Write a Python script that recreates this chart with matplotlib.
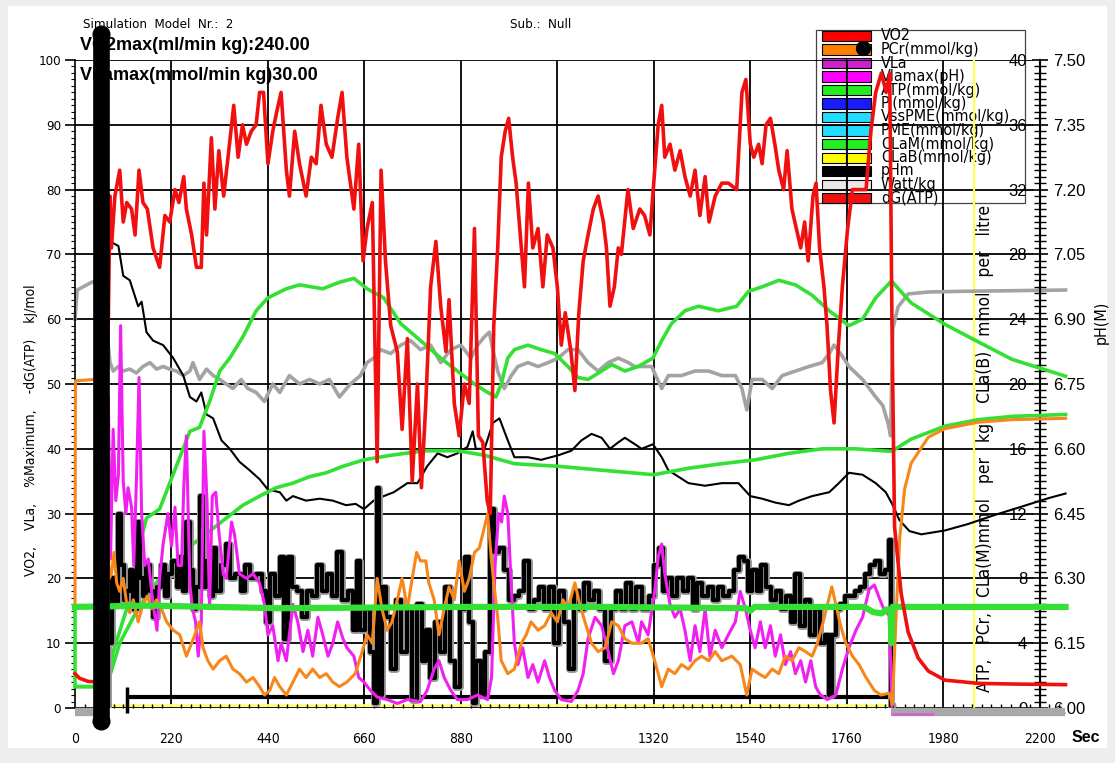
import numpy as np
import matplotlib
matplotlib.use('Agg')
import matplotlib.pyplot as plt
import matplotlib.patheffects as pe
from matplotlib.patches import Rectangle
from matplotlib.ticker import MultipleLocator
from matplotlib import font_manager as fm

REG = ['Liberation Sans', 'DejaVu Sans']
plt.rcParams['font.family'] = REG

# pick a condensed font if one is installed
def _find_narrow():
    prefs = ['liberation sans narrow', 'arial narrow', 'dejavu sans', 'noto sans', 'roboto condensed',
             'open sans', 'liberation sans']
    cands = []
    for f in fm.fontManager.ttflist:
        nm = f.name.lower()
        narrow = ('narrow' in nm or 'condensed' in nm or 'narrow' in f.fname.lower()
                  or 'condensed' in f.fname.lower() or str(f.stretch) in ('condensed', 'semi-condensed', '600', '500'))
        if not narrow or f.style != 'normal':
            continue
        if 'extra' in f.fname.lower() or 'ultra' in f.fname.lower() or 'semi' in f.fname.lower():
            continue
        w = f.weight if isinstance(f.weight, int) else {'normal': 400, 'regular': 400}.get(f.weight, 700)
        if w != 400:
            continue
        rank = next((i for i, p in enumerate(prefs) if p in nm), len(prefs))
        cands.append((rank, f.fname))
    cands.sort()
    return cands[0][1] if cands else None

NARROW_FILE = _find_narrow()

def nfp(size):
    if NARROW_FILE:
        return fm.FontProperties(fname=NARROW_FILE, size=size)
    return fm.FontProperties(family='Liberation Sans', size=size * 0.85)

# ---------------- data (time s, value on left-axis scale) ----------------
x_ticks = [0, 220, 440, 660, 880, 1100, 1320, 1540, 1760, 1980, 2200]
y_ticks = [0, 10, 20, 30, 40, 50, 60, 70, 80, 90, 100]
mmol_ticks = [0, 4, 8, 12, 16, 20, 24, 28, 32, 36, 40]
ph_ticks = [6.00, 6.15, 6.30, 6.45, 6.60, 6.75, 6.90, 7.05, 7.20, 7.35, 7.50]

vo2 = [(0,5.3),(10,4.6),(30,4.1),(64,4.0),
 (80,79),(83,71),(91,79),(102,83),(110,75),(118,78),(129,77),(137,73),(146,83),(155,78),(165,77),(178,71),(193,68),(205,76),(216,75),(228,80),(237,78),(248,82),(254,77),(266,73),(277,68),(288,68),(294,81),(300,73),(311,88),(319,77),(328,86),(339,79),(349,85),(362,93),(372,85),(382,90),(391,87),(402,89),(413,90),(421,95),(430,95),(440,84),(451,89),(460,92),(470,95),(482,83),(489,79),(501,89),(512,84),(527,79),(539,85),(550,84),(561,93),(573,87),(586,85),(599,91),(609,95),
 (620,85),(636,77),(647,87),(657,69),(666,74),(678,78),(689,38),(698,83),(708,69),(720,59),(735,55),(746,43),(758,57),(769,35),(781,50),(790,34),(800,47),(811,65),(823,72),(834,62),(846,55),(853,63),(865,47),(876,42),(888,50),(899,47),(911,74),(920,42),(930,41),(940,32),(947,30),(955,59),(964,71),(972,85),(981,89),(989,91),(998,85),(1006,81),(1018,71),(1025,65),(1034,81),(1044,71),(1056,74),(1067,65),(1077,73),(1090,71),(1100,65),(1109,56),(1118,61),(1131,55),(1140,49),(1149,61),(1159,69),(1170,73),(1182,77),(1193,79),(1205,75),(1212,71),(1220,62),(1230,65),(1239,71),
 (1246,70),(1261,80),(1273,74),(1288,77),(1299,76),(1311,73),(1322,83),(1330,90),(1338,93),(1345,85),(1357,87),(1368,83),(1380,86),(1391,82),(1403,79),(1414,83),(1425,76),(1437,82),(1446,75),(1460,79),(1475,81),(1490,81),(1509,80),(1521,95),(1530,97),(1540,87),(1548,85),(1559,87),(1567,84),(1576,90),(1586,91),(1596,87),(1605,83),(1616,80),(1624,86),(1635,77),(1645,74),(1655,71),(1664,75),(1672,69),(1683,79),(1690,81),(1698,71),(1708,65),(1715,59),(1723,49),(1731,44),(1741,56),(1750,65),(1762,74),(1773,80),(1788,80),(1804,80),(1815,89),(1826,95),(1839,98),(1850,95),(1858,98),(1863,60),(1869,28),(1884,17.7),(1900,11.7),(1923,7.7),(1946,5.7),(1984,4.3),(2060,3.8),(2137,3.7),(2259,3.6)]

dg_atp = [(0,60),(5,64.5),(38,65.7),(60,66),
 (80,53.3),(87,52),(99,52.7),(110,52),(125,52.3),(140,51.7),(155,52.7),(171,53.3),(186,52.3),(201,52.7),(216,52.3),(231,52),(247,51.3),(262,52),(269,53.3),(284,50.7),(300,52.3),(315,51.3),(330,50.7),(345,50),(360,49.3),(379,50.7),(394,49.3),(413,48.7),(432,47.3),(451,50),(467,48.7),(489,51.3),(512,50),(535,50.7),(558,50),(580,50.7),(603,48),
 (628,50),(651,51.3),(666,53.3),(681,54),(697,55.3),(720,54.7),(743,56),(765,56.7),(788,55.3),(811,56),(834,53.3),(857,55.3),(880,56),(903,54),(918,56),(934,57.3),(945,58),(953,55.3),(964,52),(979,49.3),(995,51.3),(1010,52.7),(1033,53.3),(1056,52.7),(1079,53.3),(1102,54),(1124,55.3),(1147,55.3),(1170,53.3),(1193,52),(1216,53.3),(1239,54),(1262,53.3),
 (1276,52.7),(1315,52.7),(1338,49.3),(1353,51.3),(1383,51.3),(1414,52),(1445,52),(1475,51.3),(1506,51.3),(1521,49.3),(1532,46),(1544,50.7),(1567,50.7),(1590,49.3),(1613,51.3),(1643,52),(1674,52.7),(1704,53.3),(1720,54.7),(1731,56),(1746,54.7),(1765,52.7),(1796,50.7),(1826,48),(1842,46.7),(1854,44),(1860,42),(1865,58.5),(1877,61.9),(1900,63.9),(1946,64.2),(2022,64.3),(2137,64.4),(2259,64.5)]

phm = [(75,72.5),(80,72),(99,71.3),(110,66.7),(125,66),(144,62),(152,62.7),(163,58),(178,56.7),(201,56),(224,54),(247,51.3),(262,48),(277,47.3),(288,48.7),(300,45.3),(315,44.7),(334,41.3),(353,40),(375,38),(398,36.7),(421,35.3),(440,33.7),(467,33.3),(482,32),(497,32.7),(527,32),(558,32.3),(588,32),(618,31.3),(640,31.5),(659,30.7),(681,32),(704,32.7),(727,33.3),(758,34.7),(781,34.7),(803,37.3),(827,39.3),(849,38.7),(872,39.3),(895,40.3),(907,42.7),(914,40),(934,40),(953,44),(968,44.7),(983,42),(1002,38.7),(1033,38.7),(1063,38.3),(1102,39),(1132,39.7),(1155,41.3),(1178,42.3),(1201,41.7),(1220,40),(1239,41),(1254,41.7),(1277,40.7),(1292,40),(1318,40.7),(1338,38.7),(1353,36.7),(1376,35.7),(1399,34.7),(1437,34.3),(1475,34.7),(1513,34.7),(1540,32.7),(1567,32.3),(1597,31.7),(1628,31.3),(1651,32),(1681,32.7),(1720,33.3),(1742,34.7),(1765,36.3),(1796,36),(1826,34.7),(1849,33.3),(1865,31.3),(1880,29),(1903,27.3),(1930,26.8),(1984,27.4),(2037,28.4),(2098,29.8),(2160,31.1),(2221,32.4),(2259,33.1)]

cla_m = [(0,15.6),(0,3.3),(72,3.3),(87,8.7),(118,15.3),(140,23.3),(163,29.3),(193,30.7),(216,34.7),(239,38.7),(262,42.7),(284,43.3),(307,47.3),(330,52),(353,54),(383,57.3),(413,61.3),(440,63.3),(482,64.7),(512,65.3),(565,64.7),(603,65.7),(636,66.3),(666,64.7),(704,63.3),(743,59.3),(788,56.7),(834,54),(872,52),(911,50),(941,48.7),(960,48),(972,50),(987,54),(1002,55.3),(1033,56),(1063,55.3),(1094,54.7),(1124,52.7),(1147,51),(1170,50.7),(1201,52),(1224,53),(1254,52),(1284,52.7),(1318,54),(1338,56.7),(1360,59.3),(1391,61.3),(1422,62),(1467,61.3),(1509,62),(1536,64.3),(1567,65),(1605,66),(1643,65.3),(1681,63.7),(1720,61.3),(1765,59),(1796,60),(1826,63.3),(1862,65.9),(1907,62.5),(1984,59.2),(2060,56.5),(2137,53.8),(2259,51.2)]

cla_b = [(0,3.3),(72,3.3),(102,10),(133,14),(163,17.3),(193,20),(231,22.7),(269,25.3),(307,27.3),(345,29.3),(383,31.3),(421,32.7),(459,34),(497,34.7),(535,35.7),(573,36.3),(611,37.3),(659,38.3),(720,39),(796,39.7),(872,39.7),(934,39),(1002,37.7),(1102,37.3),(1201,36.7),(1320,36),(1399,37),(1475,37.7),(1551,38.3),(1628,39.3),(1704,40),(1780,40),(1862,39.6),(1907,41.5),(1984,43.5),(2060,44.5),(2137,45),(2259,45.3)]

atp = [(0,15.6),(170,15.8),(460,15.4),(900,15.6),(1200,15.6),(1530,15.4),(1540,15.0),(1550,15.6),(1800,15.6),(1820,14.8),(1840,14.6),(1850,15.2),(1860,15.0),(1862,10),(1864,15.6),(2259,15.6)]

pcr = [(0,16),(1,50.5),(66,50.8),(72,35),(78,20),(83,20.7),(89,24),(95,19.3),(102,18),(110,20),(118,16),(125,14.7),(133,16.7),(144,13.3),(155,16),(165,17.3),(174,15.3),(186,16.7),(197,15.3),(209,13.3),(224,12),(239,11.3),(254,8),(266,10),(277,12),(284,13.3),(292,9.3),(303,7.3),(315,6),(330,7.3),(345,8),(360,6),(375,5.3),(391,4),(406,4.7),(421,3.3),(432,2),(444,2.7),(455,4.7),(467,3.3),(482,2),(497,4),(512,6),(527,4.7),(542,6),(558,4.7),(573,5.3),(588,4),(603,3.3),(620,4),(639,5.3),(655,8.7),(666,11.3),(678,10),(689,20),(700,15.3),(712,12),(723,13.3),(735,16.7),(746,20),(758,15.3),(769,20),(779,24),(788,22.7),(800,22.7),(807,19.3),(819,16.7),(830,11.3),(842,15.3),(853,18.7),(865,16.7),(876,22.7),(888,18),(899,20),(911,24),(922,24.7),(934,28),(941,30),(949,23.3),(956,18.7),(964,14),(972,7.3),(987,5.3),(1002,6),(1018,10),(1029,11.3),(1040,13.3),(1056,12),(1071,12.7),(1086,14.7),(1100,13.3),(1113,16.7),(1124,15.3),(1140,19.3),(1151,16),(1163,13.3),(1178,10),(1193,8.7),(1209,9.3),(1224,13.3),(1239,12.7),(1254,10.7),(1270,10),(1292,10),(1307,10.7),(1322,7.3),(1338,3.3),(1353,6),(1368,5.3),(1383,6.7),(1399,6),(1414,7.3),(1429,8),(1445,7.3),(1460,8.7),(1475,7.3),(1498,8),(1517,6.7),(1532,2),(1544,6),(1559,5.3),(1574,4.7),(1590,6),(1605,5.3),(1620,8),(1635,7.3),(1651,9.3),(1666,8.7),(1681,8),(1693,10),(1704,12.7),(1716,16),(1726,18.7),(1735,16),(1746,12.7),(1758,10),(1773,8),(1788,6.7),(1804,4.7),(1823,2.7),(1838,2),(1857,2.3),(1864,0.5),(1873,15),(1881,26.4),(1892,33.8),(1907,37.8),(1946,41.8),(1984,43.1),(2060,44.1),(2137,44.5),(2259,44.7)]

vla = [(72,0),(76,48),(81,23),(87,43),(93,32),(99,36),(104,59),(110,35),(116,30),(121,34),(129,31),(134,22),(140,35),(146,51),(152,30),(159,22),(167,23),(178,16),(187,12),(193,20),(201,25.3),(212,30),(220,25),(228,31),(235,22),(243,22),(248,34),(254,42),(262,19),(268,15.3),(275,13.3),(281,8),(288,13.3),(294,42.7),(301,32),(307,15.3),(313,32.7),(321,33.3),(328,27.3),(338,20.7),(345,20),(357,28.7),(364,26.7),(375,20.7),(391,20),(406,20.7),(421,19.3),(432,16),(440,11.3),(451,12.7),(463,7.3),(470,10),(482,7.3),(497,16),(508,13.3),(520,8.7),(531,12),(542,8),(554,14),(565,11.3),(577,8),(588,10),(599,13.3),(611,10.7),(620,9.3),(636,8),(647,4.7),(659,4),(674,2.7),(689,1.7),(712,1.3),(735,0.7),(758,1.3),(788,1),(803,2.7),(819,6),(830,7.3),(842,4.7),(857,2.7),(872,1.3),(895,1.3),(918,2),(941,1.3),(950,4.7),(958,22),(966,30),(973,28.7),(979,32.7),(987,30),(995,18.7),(1002,10),(1010,6.7),(1021,9.3),(1033,4.7),(1044,6.7),(1056,4),(1071,7.3),(1082,4.7),(1094,2.7),(1109,1.3),(1132,1),(1147,2.7),(1159,5.3),(1170,10.7),(1186,14),(1201,12.7),(1216,8.7),(1228,5.3),(1239,7.3),(1254,12.7),(1270,13.3),(1285,10),(1292,13.3),(1307,11.3),(1322,18),(1330,23.3),(1338,25.3),(1345,20.7),(1357,16),(1368,14),(1380,15.3),(1391,12),(1403,7.3),(1414,12.7),(1425,8.7),(1437,15.3),(1448,8),(1460,12),(1475,9.3),(1490,11.3),(1506,13.3),(1517,18),(1529,15.3),(1540,12),(1551,9.3),(1563,13.3),(1574,9.3),(1586,12.7),(1597,8),(1609,11.3),(1620,6.7),(1632,8.7),(1643,5.3),(1655,7.3),(1666,4),(1678,7.3),(1689,3.3),(1700,2),(1716,1.3),(1735,2),(1750,6),(1765,9.3),(1781,12),(1796,14),(1811,18.3),(1823,19),(1834,17),(1846,15),(1857,14.3),(1863,0)]

watt = [(72,0),(80,10),(87,20),(95,16),(102,30),(108,22),(114,16.7),(121,18),(129,21.3),(137,15.3),(144,28.7),(152,20),(159,17.3),(167,22),(174,18),(182,14),(192,18.7),(201,22),(209,17.3),(216,20.7),(228,22.7),(235,18.7),(243,23.3),(250,18),(258,28.7),(266,21.3),(273,15.3),(281,18.7),(288,32.7),(296,18.7),(303,22.7),(311,17.3),(319,24.7),(326,18),(338,22),(349,25.3),(360,20),(372,20.7),(383,18),(394,22),(406,20),(421,20.7),(432,18),(440,13.3),(451,20.7),(463,17.3),(470,23.3),(482,10.7),(489,23.3),(501,18.7),(512,18),(523,14),(535,18),(546,17.3),(558,22),(569,18),(580,20.7),(592,17.3),(603,24),(616,16.7),(628,18),(639,12),(647,22.7),(655,12),(666,15.3),(678,8.7),(685,0.7),(691,34),(695,2),(704,18.7),(716,14),(727,6),(739,16.7),(750,8.7),(762,15.3),(773,1.3),(785,16),(796,7.3),(805,12),(815,4.7),(826,13.3),(838,8.7),(849,18.7),(861,7.3),(872,3.3),(884,15.3),(895,23.3),(903,13.3),(911,0.7),(920,7.3),(930,2),(941,8.7),(953,30.7),(960,24),(972,24.7),(983,21.3),(995,16.7),(1006,17.3),(1018,18),(1029,22.7),(1040,15.3),(1052,16.7),(1063,18.7),(1075,15.3),(1086,18.7),(1098,10),(1109,18),(1121,13.3),(1132,6),(1144,18),(1155,15.3),(1166,19.3),(1178,16.7),(1189,18),(1201,15.3),(1216,7.3),(1228,15.3),(1239,18),(1251,15.3),(1262,19.3),(1274,15.3),(1285,18.7),(1303,15.3),(1315,17.3),(1326,22),(1336,24.7),(1345,18),(1357,20),(1368,17.3),(1380,20),(1391,18),(1403,20),(1414,15.3),(1425,19.3),(1437,17.3),(1448,18.7),(1460,16.7),(1471,18.7),(1483,17.3),(1498,18),(1509,21.3),(1521,23.3),(1530,22.7),(1540,18),(1550,21.3),(1559,18),(1570,22),(1582,18.7),(1594,16.7),(1605,18),(1616,15.3),(1628,17.3),(1639,13.3),(1647,20.7),(1658,12.7),(1670,16.7),(1681,11.3),(1693,15.3),(1704,10),(1716,11.3),(1723,2),(1731,11.3),(1741,15.3),(1750,16),(1762,17.3),(1773,17.3),(1784,18),(1796,18.7),(1807,20.7),(1819,22),(1830,22.7),(1842,20.7),(1853,21.3),(1861,26),(1863,0.3)]

legend_labels = ['VO2', 'PCr(mmol/kg)', 'VLa', 'Vlamax(pH)', 'ATP(mmol/kg)', 'Pi(mmol/kg)',
                 'VssPME(mmol/kg)', 'PME(mmol/kg)', 'CLaM(mmol/kg)', 'CLaB(mmol/kg)',
                 'pHm', 'Watt/kg', 'dG(ATP)']
legend_colors = ['#ff0000', '#ff8000', '#cc22cc', '#ff00ff', '#22ee22', '#1a1aff',
                 '#22ddff', '#22ddff', '#22ee22', '#ffff00', '#000000', '#e8e8e8', '#ee1111']

# annotations of the simulation run
start_col_t = 60
start_col_span = (-2, 104)
bar_span = (118, 1862)
bar_level = 1.7
rest_gray = [(0, 58), (1860, 2258)]
yellow_mark_t = 2050

# ---------------- figure ----------------
W, H = 1115, 763
fig = plt.figure(figsize=(W / 100, H / 100), dpi=100)
fig.patch.set_facecolor('#eeeeee')
fig.patches.append(Rectangle((8 / W, 1 - 748 / H), 1099 / W, 742 / H,
                             transform=fig.transFigure, fc='white', ec='none', zorder=-5))

def fx(x):
    return x / W

def fy(y):
    return 1 - y / H

X0, X1 = 75, 1066
ax = fig.add_axes([fx(X0), fy(708), (X1 - X0) / W, 648 / H])
ax.patch.set_alpha(0)
ax.set_xlim(0, 2260)
ax.set_ylim(0, 100)
for s in ['top', 'right', 'bottom']:
    ax.spines[s].set_visible(False)
ax.spines['left'].set_linewidth(1.2)

ax.set_xticks(x_ticks)
ax.set_xticklabels([str(v) for v in x_ticks], fontproperties=nfp(10))
ax.xaxis.set_minor_locator(MultipleLocator(22))
ax.tick_params(axis='x', which='major', length=0, pad=17)
ax.tick_params(axis='x', which='minor', length=3, direction='in', width=1, color='black')
ax.set_yticks(y_ticks)
ax.set_yticklabels([str(v) for v in y_ticks], fontproperties=nfp(9.5))
ax.yaxis.set_minor_locator(MultipleLocator(1))
ax.tick_params(axis='y', which='major', length=7, width=1.2, direction='out', pad=3)
ax.tick_params(axis='y', which='minor', length=3, width=0.8, direction='out')

# grid
ax.hlines(y_ticks, 0, 2185, color='black', lw=1.3, zorder=1)
ax.vlines(x_ticks[1:-1], 0, 100, color='black', lw=1.3, zorder=1)
ax.vlines(yellow_mark_t, 0, 100, color='#ffff55', lw=1.6, zorder=1.2)
ax.hlines(0.4, start_col_t, bar_span[1], color='#ffff70', lw=2.0, zorder=1.1)

# right axes
sec = ax.secondary_yaxis(2200 / 2260, functions=(lambda v: v * 0.4, lambda r: r / 0.4))
sec.set_yticks(mmol_ticks)
sec.set_yticklabels([str(v) for v in mmol_ticks], fontfamily=REG, fontsize=12)
sec.yaxis.set_minor_locator(MultipleLocator(0.4))
sec.tick_params(axis='y', which='both', left=True, right=True, labelleft=True, labelright=False)
sec.tick_params(axis='y', which='major', length=6, width=1.2, pad=3)
sec.tick_params(axis='y', which='minor', length=4, width=1)
sec.spines['right'].set_linewidth(1.5)
sec.set_zorder(2)

sec2 = ax.secondary_yaxis(2200 / 2260, functions=(lambda v: 6 + 0.015 * v, lambda p: (p - 6) / 0.015))
sec2.set_yticks(ph_ticks)
sec2.set_yticklabels(['%.2f' % v for v in ph_ticks], fontfamily=REG, fontsize=12)
sec2.tick_params(axis='y', which='both', length=0, pad=10)
sec2.yaxis.set_minor_locator(MultipleLocator(10))
sec2.set_zorder(2)

def arr(series):
    a = np.array(series, dtype=float)
    return a[:, 0], a[:, 1]

# bottom bars
for a, b in rest_gray:
    ax.hlines(-0.6, a, b, color='#a8a8a8', lw=6, zorder=3, clip_on=False)
ax.hlines(-1.0, 1860, 1960, color='#cc66cc', lw=2, zorder=3.1, clip_on=False)
ax.hlines(bar_level, bar_span[0], bar_span[1], color='black', lw=3, zorder=3)
ax.vlines(bar_span[0], -0.8, 3.3, color='black', lw=2.5, zorder=3, clip_on=False)

t, v = arr(dg_atp)
ax.plot(t, v, color='#a3a3a3', lw=2.6, zorder=2, clip_on=False)
t, v = arr(phm)
ax.plot(t, v, color='black', lw=1.5, zorder=3, clip_on=False)
t, v = arr(cla_m)
ax.plot(t, v, color='#33e033', lw=2.6, zorder=4, clip_on=False)
t, v = arr(cla_b)
ax.plot(t, v, color='#33e033', lw=2.6, zorder=4, clip_on=False)
t, v = arr(watt)
ax.plot(t, v, color='black', lw=3.0, zorder=5, drawstyle='steps-mid',
        path_effects=[pe.Stroke(linewidth=5.0, foreground='#9a9a9a'), pe.Normal()])
t, v = arr(vla)
ax.plot(t, v, color='#f020f0', lw=2.2, zorder=6)
t, v = arr(pcr)
ax.plot(t, v, color='#f7861b', lw=2.2, zorder=7, clip_on=False)
t, v = arr(atp)
ax.plot(t, v, color='#33e033', lw=4.5, zorder=8, clip_on=False)
t, v = arr(vo2)
ax.plot(t, v, color='#f01010', lw=2.6, zorder=9, clip_on=False)

# start column
ax.vlines(start_col_t, start_col_span[0], start_col_span[1], color='black', lw=12, zorder=10, clip_on=False)
ax.plot([start_col_t, start_col_t], [start_col_span[0], start_col_span[1]], 'o', color='black', ms=12,
        zorder=10, clip_on=False)
ax.plot([1797], [101.8], 'o', color='black', ms=10, zorder=10, clip_on=False)

# legend
TF = fig.transFigure
ax.add_patch(Rectangle((fx(816), fy(203)), (1025 - 816) / W, (203 - 30) / H, transform=TF,
                       fc='white', ec='#444444', lw=0.9, zorder=0.5, clip_on=False))
for i, (lab, col) in enumerate(zip(legend_labels, legend_colors)):
    yc = 36 + i * 13.5
    ax.add_patch(Rectangle((fx(822), fy(yc + 5)), 49 / W, 10 / H, transform=TF, fc=col,
                           ec='black', lw=0.8, zorder=0.6, clip_on=False))
    if i >= 2:
        ax.plot([fx(846), fx(846)], [fy(yc - 5), fy(yc + 5)], transform=TF, color='black',
                lw=0.8, zorder=0.65, clip_on=False)
    ax.text(fx(881), fy(yc), lab, transform=TF, fontproperties=nfp(11.5), va='center', ha='left',
            zorder=0.7, clip_on=False)

# texts
ax.text(fx(985), fy(692), 'ATP,   PCr,   CLa(M)mmol   per   kg    CLa(B)   mmol   per   litre',
        transform=TF, rotation=90, ha='center', va='bottom', fontproperties=nfp(12.5),
        zorder=0.3, clip_on=False)
ax.text(fx(83), fy(25), 'Simulation  Model  Nr.:  2', transform=TF, fontproperties=nfp(9.5), va='center',
        zorder=9.5, clip_on=False)
ax.text(fx(510), fy(25), 'Sub.:  Null', transform=TF, fontproperties=nfp(9.5), va='center',
        zorder=9.5, clip_on=False)
ax.text(fx(80), fy(46), 'VO2max(ml/min kg):240.00', transform=TF, fontsize=13, fontweight='bold',
        fontfamily=REG, va='center', zorder=9.5, clip_on=False)
ax.text(fx(80), fy(76), 'VLamax(mmol/min kg)30.00', transform=TF, fontsize=13, fontweight='bold',
        fontfamily=REG, va='center', zorder=9.5, clip_on=False)
fig.text(fx(31), fy(430), 'VO2,    VLa,    %Maximum,    -dG(ATP)    kJ/mol', rotation=90, ha='center',
         va='center', fontproperties=nfp(10))
fig.text(fx(1101), fy(322), 'pH(M)', rotation=90, ha='center', va='center', fontproperties=nfp(11.5))
fig.text(fx(1086), fy(737), 'Sec', ha='center', va='center', fontsize=11.5, fontweight='bold', fontfamily=REG)

fig.savefig('out.png', dpi=100, facecolor=fig.get_facecolor())
